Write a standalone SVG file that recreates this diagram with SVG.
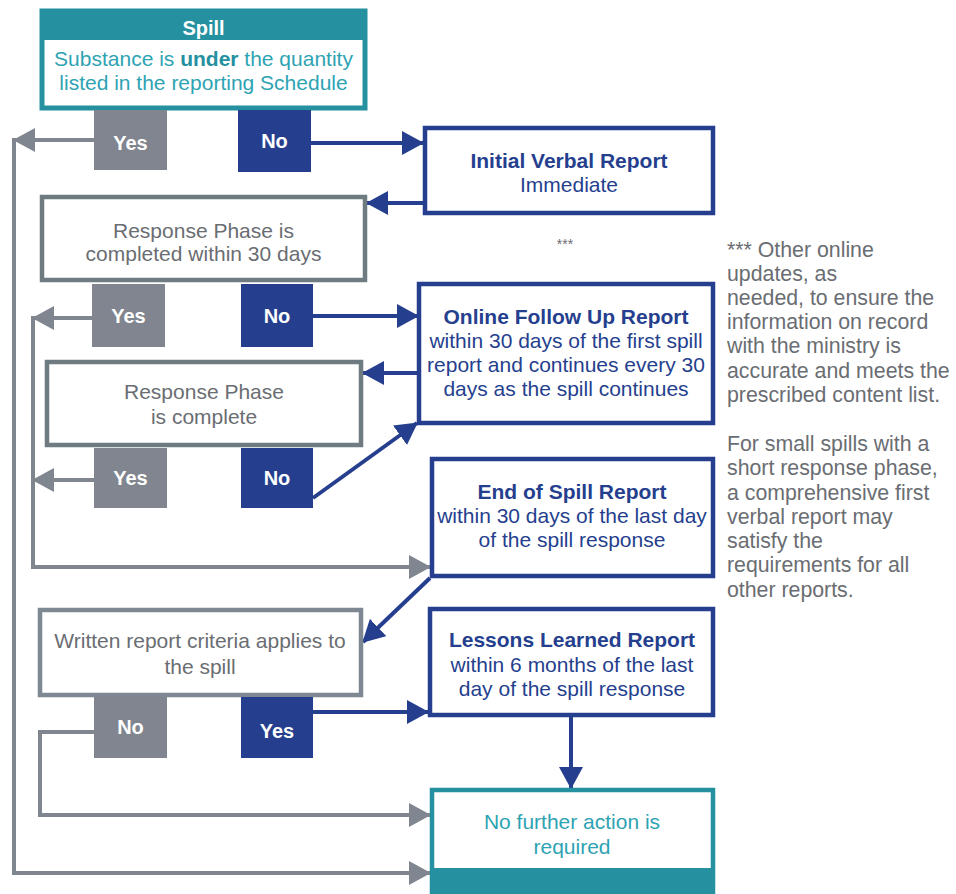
<svg xmlns="http://www.w3.org/2000/svg" width="956" height="894" viewBox="0 0 956 894">
<defs>
<style>
text{font-family:"Liberation Sans",Arial,sans-serif;text-anchor:middle}
.lbl{font-size:20px;font-weight:bold;fill:#fff}
.body{font-size:21px}
.teal{fill:#2ea3b3}
.grey{fill:#6a6d72}
.blue{fill:#253f8e}
.b{font-weight:bold}
.note{font-size:21.3px;fill:#6a6d72;text-anchor:start}
.boxg{fill:#fff;stroke:#6e7b80;stroke-width:4.5}
.boxw{fill:#fff;stroke:#7d8892;stroke-width:4.5}
.boxb{fill:#fff;stroke:#253f8e;stroke-width:4.5}
.gy{fill:#80858f}
.dk{fill:#253f8e}
.cg{fill:none;stroke:#80868f;stroke-width:4}
.cb{fill:none;stroke:#253f8e;stroke-width:4}
</style>
<marker id="ag" markerUnits="userSpaceOnUse" markerWidth="22" markerHeight="24" refX="21" refY="12" orient="auto"><path d="M0,0 L22,12 L0,24 z" fill="#80868f"/></marker>
<marker id="ab" markerUnits="userSpaceOnUse" markerWidth="22" markerHeight="24" refX="21" refY="12" orient="auto"><path d="M0,0 L22,12 L0,24 z" fill="#253f8e"/></marker>
</defs>
<rect width="956" height="894" fill="#fff"/>

<g id="connectors">
<path class="cg" d="M94,140 L14,140" marker-end="url(#ag)"/>
<path class="cg" d="M14,138 L14,873 L430,873" marker-end="url(#ag)"/>
<path class="cb" d="M311,143 L423,143" marker-end="url(#ab)"/>
<path class="cb" d="M423,203 L367,203" marker-end="url(#ab)"/>
<path class="cg" d="M92,318 L33,318" marker-end="url(#ag)"/>
<path class="cg" d="M33,316 L33,567 L430,567" marker-end="url(#ag)"/>
<path class="cb" d="M313,316 L418,316" marker-end="url(#ab)"/>
<path class="cb" d="M418,373 L363,373" marker-end="url(#ab)"/>
<path class="cg" d="M94,480 L33,480" marker-end="url(#ag)"/>
<path class="cb" d="M313,498 L417,423" marker-end="url(#ab)"/>
<path class="cb" d="M430,578 L363,642" marker-end="url(#ab)"/>
<path class="cg" d="M94,732 L40,732 L40,815 L430,815" marker-end="url(#ag)"/>
<path class="cb" d="M313,712 L428,712" marker-end="url(#ab)"/>
<path class="cb" d="M571,717 L571,788" marker-end="url(#ab)"/>
</g>

<g id="spill">
<rect x="42" y="11" width="323" height="97" fill="#fff" stroke="#2490a0" stroke-width="5"/>
<rect x="40" y="9" width="327" height="31" fill="#2490a0"/>
<text class="lbl" x="203.5" y="35">Spill</text>
<text class="body teal" x="203.5" y="66">Substance is <tspan class="b" fill="#2490a0">under</tspan> the quantity</text>
<text class="body teal" x="203.5" y="90">listed in the reporting Schedule</text>
</g>

<g id="yes1"><rect class="gy" x="94" y="110" width="73" height="60"/><text class="lbl" x="130.5" y="150">Yes</text></g>
<g id="no1"><rect class="dk" x="238" y="110" width="73" height="62"/><text class="lbl" x="274.5" y="148">No</text></g>

<g id="initial">
<rect class="boxb" x="425" y="128" width="288" height="85"/>
<text class="body blue b" x="569" y="168">Initial Verbal Report</text>
<text class="body blue" x="569" y="192">Immediate</text>
</g>

<g id="resp1">
<rect class="boxg" x="42" y="197" width="323" height="83"/>
<text class="body grey" x="203.5" y="238">Response Phase is</text>
<text class="body grey" x="203.5" y="261">completed within 30 days</text>
</g>

<text x="565" y="249" style="font-size:14px;fill:#6a6d72">***</text>

<g id="yes2"><rect class="gy" x="92" y="284" width="73" height="63"/><text class="lbl" x="128.5" y="323">Yes</text></g>
<g id="no2"><rect class="dk" x="241" y="284" width="72" height="63"/><text class="lbl" x="277" y="323">No</text></g>

<g id="online">
<rect class="boxb" x="419" y="284" width="294" height="139"/>
<text class="body blue b" x="566" y="324">Online Follow Up Report</text>
<text class="body blue" x="566" y="348">within 30 days of the first spill</text>
<text class="body blue" x="566" y="372">report and continues every 30</text>
<text class="body blue" x="566" y="396">days as the spill continues</text>
</g>

<g id="resp2">
<rect class="boxg" x="47" y="362" width="314" height="83"/>
<text class="body grey" x="204" y="399">Response Phase</text>
<text class="body grey" x="204" y="424">is complete</text>
</g>

<g id="yes3"><rect class="gy" x="94" y="448" width="73" height="60"/><text class="lbl" x="130.5" y="485">Yes</text></g>
<g id="no3"><rect class="dk" x="241" y="448" width="72" height="60"/><text class="lbl" x="277" y="485">No</text></g>

<g id="endspill">
<rect class="boxb" x="432" y="459" width="281" height="117"/>
<text class="body blue b" x="572" y="499">End of Spill Report</text>
<text class="body blue" x="572" y="523">within 30 days of the last day</text>
<text class="body blue" x="572" y="547">of the spill response</text>
</g>

<g id="written">
<rect class="boxw" x="40" y="610" width="321" height="85"/>
<text class="body grey" x="200" y="648">Written report criteria applies to</text>
<text class="body grey" x="200" y="674">the spill</text>
</g>

<g id="no4"><rect class="gy" x="94" y="697" width="73" height="61"/><text class="lbl" x="130.5" y="734">No</text></g>
<g id="yes4"><rect class="dk" x="241" y="697" width="72" height="61"/><text class="lbl" x="277" y="738">Yes</text></g>

<g id="lessons">
<rect class="boxb" x="430" y="609" width="283" height="106"/>
<text class="body blue b" x="572" y="647">Lessons Learned Report</text>
<text class="body blue" x="572" y="672">within 6 months of the last</text>
<text class="body blue" x="572" y="696">day of the spill response</text>
</g>

<g id="nofurther">
<rect x="432" y="790" width="281" height="110" fill="#fff" stroke="#2490a0" stroke-width="4.5"/>
<rect x="430" y="868" width="285" height="26" fill="#2490a0"/>
<text class="body teal" x="572" y="829">No further action is</text>
<text class="body teal" x="572" y="854">required</text>
</g>

<g id="notes">
<text class="note" x="727" y="257">*** Other online</text>
<text class="note" x="727" y="281">updates, as</text>
<text class="note" x="727" y="305">needed, to ensure the</text>
<text class="note" x="727" y="329">information on record</text>
<text class="note" x="727" y="353">with the ministry is</text>
<text class="note" x="727" y="378">accurate and meets the</text>
<text class="note" x="727" y="402">prescribed content list.</text>
<text class="note" x="727" y="451">For small spills with a</text>
<text class="note" x="727" y="475">short response phase,</text>
<text class="note" x="727" y="500">a comprehensive first</text>
<text class="note" x="727" y="524">verbal report may</text>
<text class="note" x="727" y="548">satisfy the</text>
<text class="note" x="727" y="572">requirements for all</text>
<text class="note" x="727" y="597">other reports.</text>
</g>
</svg>
